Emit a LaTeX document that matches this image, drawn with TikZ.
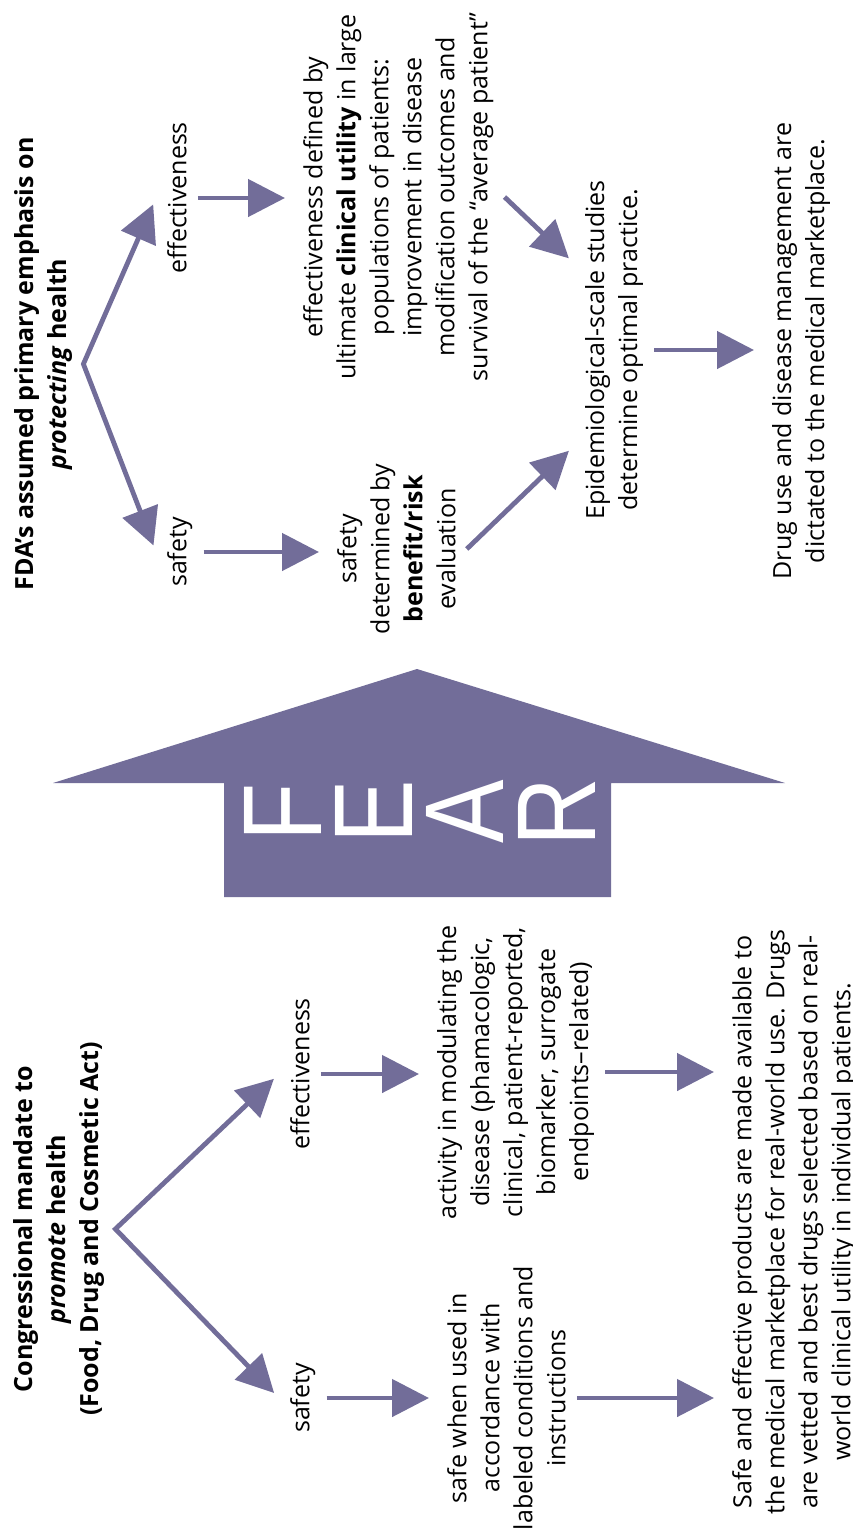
\documentclass[tikz,border=0pt]{standalone}
\usepackage{fontspec}
\setmainfont{Open Sans}
\newfontfamily\fearfont[FakeStretch=0.85]{Liberation Sans}
\usetikzlibrary{arrows.meta,calc}
\definecolor{fearpurple}{HTML}{726D99}

\tikzset{
  txt/.style={rotate=90,align=center,anchor=north,inner sep=11pt,font=\fontsize{25}{33}\selectfont},
  title/.style={txt,font=\fontsize{25}{33}\selectfont\bfseries},
  flow/.style={draw=fearpurple,line width=4.8pt,-{Triangle[length=37pt,width=37pt]},shorten >=7pt},
  fork/.style={draw=fearpurple,line width=4.8pt,{Triangle[length=37pt,width=37pt]}-{Triangle[length=37pt,width=37pt]},shorten >=7pt,shorten <=7pt},
  fearletter/.style={rotate=90,anchor=base,inner sep=0pt,text=white,font=\fearfont\fontsize{112}{112}\selectfont}
}

\begin{document}
\begin{tikzpicture}[x=1pt,y=-1pt]
  \useasboundingbox (0,0) rectangle (853,1539);

  % the big arrow
  \fill[fearpurple] (224,897) -- (224,783) -- (53,783) -- (417,669) -- (785,783) -- (611,783) -- (611,897) -- cycle;
  \foreach \l/\x in {F/321,E/412,A/503,R/595}{\node[fearletter] (fear\l) at (\x,812) {\l};}

  % FDA
  \node[title] (titleU) at (3,364) {FDA’s assumed primary emphasis on\\\textit{protecting} health};
  \node[txt] (effU) at (156,198) {effectiveness};
  \node[txt] (safeU) at (156,552) {safety};
  \node[txt] (clinU) at (292,197) {effectiveness defined by\\ultimate \textbf{clinical utility} in large\\populations of patients:\\improvement in disease\\modification outcomes and\\survival of the “average patient”};
  \node[txt] (benU) at (326,549) {safety\\determined by\\\textbf{benefit/risk}\\evaluation};
  \node[txt] (epiU) at (574,350) {Epidemiological-scale studies\\determine optimal practice.};
  \node[txt] (drugU) at (761,351) {Drug use and disease management are\\dictated to the medical marketplace.};

  \draw[fork] (effU.north) -- (titleU.south) -- (safeU.north);
  \draw[flow] (effU.south) -- (effU.south -| clinU.north);
  \draw[flow] (safeU.south) -- (safeU.south -| benU.north);
  \draw[flow] (clinU.south) -- ($(epiU.north)!0.48!(epiU.north east)$);
  \draw[flow] (benU.south) -- ($(epiU.north)!0.53!(epiU.north west)$);
  \draw[flow] (epiU.south) -- (epiU.south -| drugU.north);

  % Congress
  \node[title] (titleL) at (2,1229) {Congressional mandate to\\\textit{promote} health\\(Food, Drug and Cosmetic Act)};
  \node[txt] (effL) at (279,1074) {effectiveness};
  \node[txt] (safeL) at (279,1398) {safety};
  \node[txt] (actL) at (426,1072) {activity in modulating the\\disease (phamacologic,\\clinical, patient-reported,\\biomarker, surrogate\\endpoints–related)};
  \node[txt] (useL) at (436,1398) {safe when used in\\accordance with\\labeled conditions and\\instructions};
  \node[txt] (mktL) at (721,1222) {Safe and effective products are made available to\\the medical marketplace for real-world use. Drugs\\are vetted and best drugs selected based on real-\\world clinical utility in individual patients.};

  \draw[fork] (effL.north) -- (titleL.south) -- (safeL.north);
  \draw[flow] (effL.south) -- (effL.south -| actL.north);
  \draw[flow] (safeL.south) -- (safeL.south -| useL.north);
  \draw[flow] (actL.south) -- (actL.south -| mktL.north);
  \draw[flow] (useL.south) -- (useL.south -| mktL.north);
\end{tikzpicture}
\end{document}
